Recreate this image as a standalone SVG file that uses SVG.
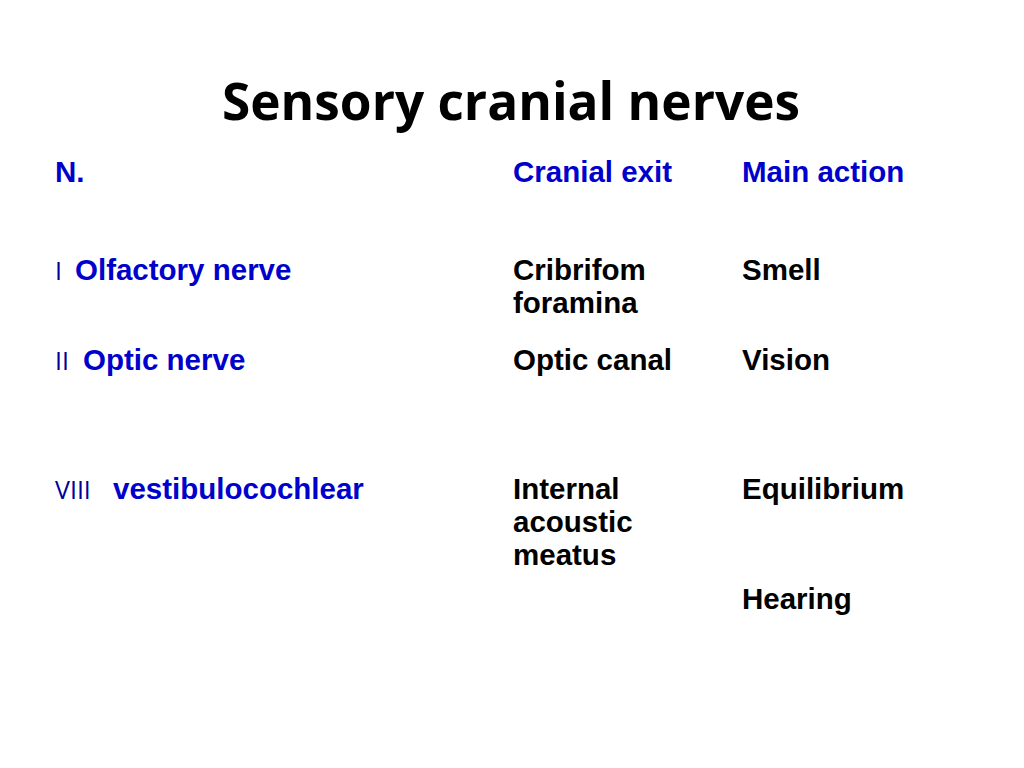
<svg xmlns="http://www.w3.org/2000/svg" width="1024" height="768" viewBox="0 0 1024 768">
<style>
.t{font-family:"Open Sans","Liberation Sans",sans-serif;font-weight:bold;font-size:52px;fill:#000}
.b{font-family:"Liberation Sans",Arial,sans-serif;font-weight:bold;font-size:29.5px}
.blue{fill:#0000CC}
.blk{fill:#000}
.r{font-family:"Open Sans","Liberation Sans",sans-serif;font-size:25px;fill:#000099}
</style>
<rect width="1024" height="768" fill="#fff"/>
<text class="t" x="222" y="120" textLength="578" lengthAdjust="spacingAndGlyphs">Sensory cranial nerves</text>
<g id="header">
<text class="b blue" x="55" y="182">N.</text>
<text class="b blue" x="513" y="182">Cranial exit</text>
<text class="b blue" x="742" y="182">Main action</text>
</g>
<g id="row1">
<text class="r" x="55" y="280">I</text>
<text class="b blue" x="75" y="280">Olfactory nerve</text>
<text class="b blk" x="513" y="280">Cribrifom</text>
<text class="b blk" x="513" y="313">foramina</text>
<text class="b blk" x="742" y="280">Smell</text>
</g>
<g id="row2">
<text class="r" x="55" y="370">II</text>
<text class="b blue" x="83" y="370">Optic nerve</text>
<text class="b blk" x="513" y="370">Optic canal</text>
<text class="b blk" x="742" y="370">Vision</text>
</g>
<g id="row3">
<text class="r" x="55" y="499">VIII</text>
<text class="b blue" x="113" y="499">vestibulocochlear</text>
<text class="b blk" x="513" y="499">Internal</text>
<text class="b blk" x="513" y="532">acoustic</text>
<text class="b blk" x="513" y="565">meatus</text>
<text class="b blk" x="742" y="499">Equilibrium</text>
<text class="b blk" x="742" y="609">Hearing</text>
</g>
</svg>
